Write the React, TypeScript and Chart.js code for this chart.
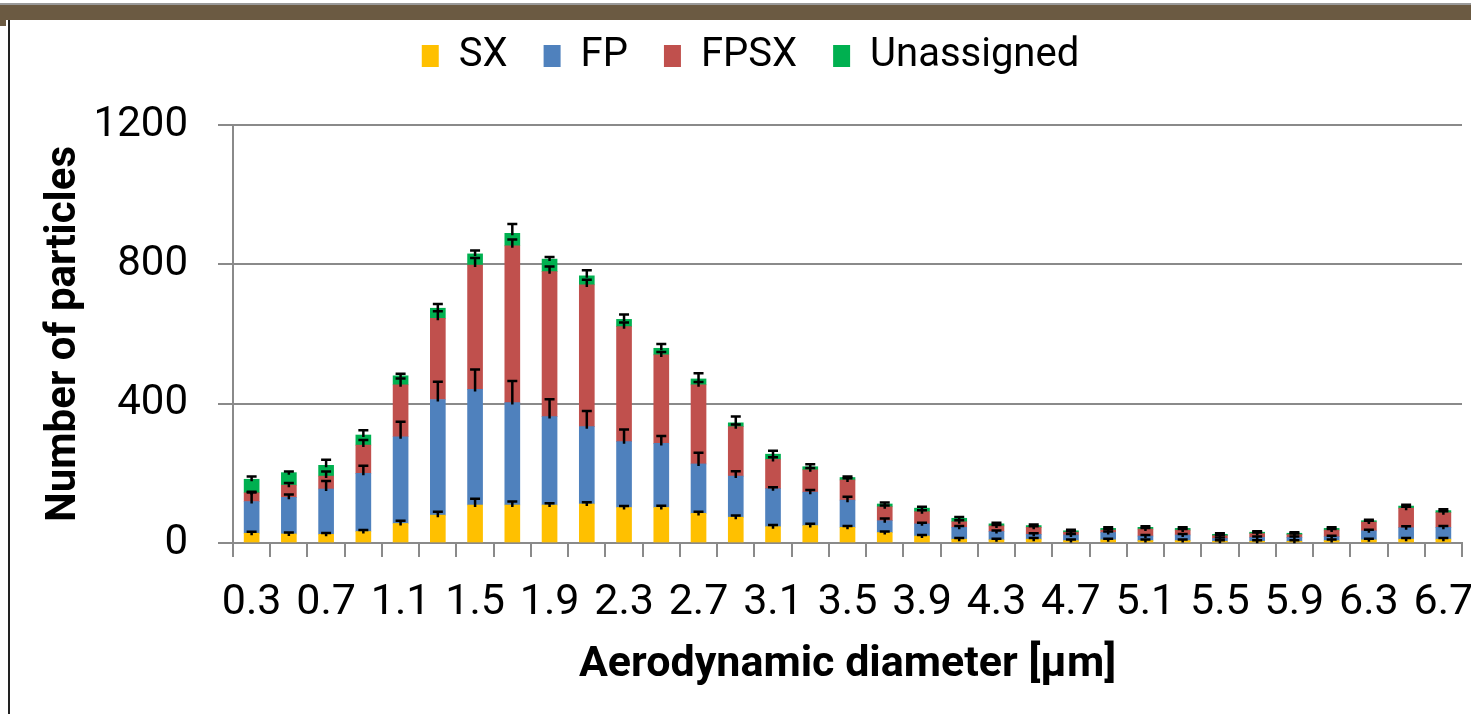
import React, { useEffect, useRef } from "react";
import { Chart, registerables } from "chart.js";

Chart.register(...registerables);

const categories = [
  "0.3", "0.5", "0.7", "0.9", "1.1", "1.3", "1.5", "1.7", "1.9", "2.1", "2.3",
  "2.5", "2.7", "2.9", "3.1", "3.3", "3.5", "3.7", "3.9", "4.1", "4.3", "4.5",
  "4.7", "4.9", "5.1", "5.3", "5.5", "5.7", "5.9", "6.1", "6.3", "6.5", "6.7",
];

const sxValues = [28, 26, 25, 33, 56, 80, 109, 109, 109, 112, 102, 102, 85, 74, 47, 50, 45, 30, 20, 11, 9, 11, 7, 9, 7, 7, 5, 5, 5, 7, 9, 11, 11];
const fpValues = [91, 105, 130, 167, 249, 332, 332, 294, 254, 222, 189, 184, 142, 118, 109, 96, 78, 34, 35, 34, 24, 14, 16, 21, 13, 16, 8, 11, 11, 11, 26, 33, 34];
const fpsxValues = [25, 35, 37, 81, 149, 233, 357, 450, 416, 407, 330, 254, 227, 142, 84, 64, 58, 40, 35, 16, 16, 20, 8, 7, 20, 14, 8, 11, 8, 19, 25, 56, 42];
const unassignedValues = [39, 36, 31, 29, 26, 29, 32, 36, 36, 26, 21, 19, 17, 11, 15, 9, 7, 8, 10, 10, 6, 5, 4, 5, 5, 5, 4, 4, 4, 5, 4, 6, 6];

const sxErrors = [4, 4, 4, 4, 8, 10, 18, 10, 5, 5, 4, 5, 5, 5, 5, 5, 4, 3, 3, 3, 3, 3, 3, 3, 3, 3, 3, 3, 3, 3, 3, 3, 3];
const fpErrors = [26, 8, 23, 22, 43, 51, 57, 62, 50, 45, 35, 21, 32, 14, 4, 6, 10, 6, 3, 4, 3, 3, 3, 3, 3, 3, 3, 3, 3, 3, 3, 4, 4];
const fpsxErrors = [3, 6, 13, 15, 18, 20, 20, 18, 15, 15, 12, 8, 8, 6, 6, 5, 5, 4, 4, 4, 3, 3, 3, 3, 3, 3, 3, 3, 3, 3, 4, 4, 4];
const unassignedErrors = [8, 3, 16, 14, 6, 12, 10, 27, 6, 16, 14, 12, 16, 18, 10, 7, 3, 4, 4, 4, 3, 3, 3, 3, 3, 3, 3, 3, 3, 3, 3, 4, 4];

const yTicks = [0, 400, 800, 1200];

const FONT = "Roboto";

const errorBarPlugin = {
  id: "errorBars",
  afterDatasetsDraw(chart: any) {
    const ctx = chart.ctx;
    const yScale = chart.scales.y;
    ctx.save();
    ctx.strokeStyle = "#000000";
    ctx.lineWidth = 2.5;
    chart.data.datasets.forEach((ds: any, di: number) => {
      const meta = chart.getDatasetMeta(di);
      if (meta.hidden) return;
      const errs: number[] = ds.errors || [];
      meta.data.forEach((bar: any, i: number) => {
        const e = errs[i] || 0;
        const len = yScale.getPixelForValue(0) - yScale.getPixelForValue(e);
        const x = bar.x;
        const y = bar.y;
        ctx.beginPath();
        ctx.moveTo(x, y + 2);
        ctx.lineTo(x, y - len);
        ctx.moveTo(x - 5, y - len);
        ctx.lineTo(x + 5, y - len);
        ctx.stroke();
      });
    });
    ctx.restore();
  },
};

const legendSpacePlugin = {
  id: "legendSpace",
  afterInit(chart: any) {
    const lg = chart.legend;
    if (!lg || lg.__patched) return;
    const orig = lg.fit;
    lg.fit = function () {
      orig.call(this);
      this.height += 39;
    };
    lg.__patched = true;
  },
};

export default function App() {
  const canvasRef = useRef<HTMLCanvasElement | null>(null);

  useEffect(() => {
    if (!canvasRef.current) return;
    const chart = new Chart(canvasRef.current, {
      type: "bar",
      data: {
        labels: categories,
        datasets: [
          { label: "SX", data: sxValues, backgroundColor: "#FFC000", errors: sxErrors } as any,
          { label: "FP", data: fpValues, backgroundColor: "#4F81BD", errors: fpErrors } as any,
          { label: "FPSX", data: fpsxValues, backgroundColor: "#C0504D", errors: fpsxErrors } as any,
          { label: "Unassigned", data: unassignedValues, backgroundColor: "#00B050", errors: unassignedErrors } as any,
        ],
      },
      options: {
        animation: false,
        responsive: false,
        maintainAspectRatio: false,
        datasets: { bar: { barThickness: 15 } } as any,
        layout: { padding: { top: 0, left: 39, right: 9, bottom: 23 } },
        plugins: {
          tooltip: { enabled: false },
          legend: {
            display: true,
            position: "top",
            labels: {
              boxWidth: 17,
              boxHeight: 22,
              padding: 36,
              color: "#000000",
              font: { family: FONT, size: 40 },
            },
          },
        },
        scales: {
          x: {
            stacked: true,
            afterFit: (scale: any) => {
              scale.height = 148;
              scale.paddingRight = 0;
              scale.paddingLeft = 0;
            },
            grid: {
              offset: true,
              drawOnChartArea: false,
              drawTicks: true,
              tickLength: 14,
              color: "#8a8a8a",
              lineWidth: 2,
            },
            border: { color: "#8a8a8a", width: 2 },
            ticks: {
              autoSkip: false,
              maxRotation: 0,
              minRotation: 0,
              padding: 20,
              color: "#000000",
              font: { family: FONT, size: 43 },
              callback: (_v: any, i: number) => (i % 2 === 0 ? categories[i] : ""),
            },
            title: {
              display: true,
              text: "Aerodynamic diameter [µm]",
              color: "#000000",
              font: { family: FONT, size: 43, weight: "bold" },
              padding: { top: 0, bottom: 0 },
            },
          },
          y: {
            stacked: true,
            min: 0,
            max: 1200,
            afterBuildTicks: (scale: any) => {
              scale.ticks = yTicks.map((v) => ({ value: v }));
            },
            afterFit: (scale: any) => {
              scale.width = 194;
            },
            grid: {
              color: "#8a8a8a",
              lineWidth: 2,
              drawTicks: true,
              tickLength: 15,
            },
            border: { color: "#8a8a8a", width: 2 },
            ticks: {
              padding: 30,
              color: "#000000",
              font: { family: FONT, size: 42 },
              callback: (v: any) => String(v),
            },
            title: {
              display: true,
              text: "Number of particles",
              color: "#000000",
              font: { family: FONT, size: 42, weight: "bold" },
              padding: { top: 0, bottom: 0 },
            },
          },
        },
      } as any,
      plugins: [errorBarPlugin, legendSpacePlugin],
    });
    return () => chart.destroy();
  }, []);

  return (
    <div style={{ position: "fixed", left: 0, top: 0, width: 1471, height: 714, background: "#ffffff", overflow: "hidden" }}>
      <div style={{ position: "absolute", left: 0, top: 3, width: 1471, height: 2, background: "#9a9a9a" }} />
      <div style={{ position: "absolute", left: 0, top: 5, width: 1471, height: 15, background: "#6b5a42" }} />
      <div style={{ position: "absolute", left: 0, top: 20, width: 6, height: 6, background: "#6b5a42" }} />
      <div style={{ position: "absolute", left: 8, top: 20, width: 2, height: 694, background: "#222222" }} />
      <canvas ref={canvasRef} width={1471} height={714} style={{ position: "absolute", left: 0, top: 0, width: 1471, height: 714 }} />
    </div>
  );
}
